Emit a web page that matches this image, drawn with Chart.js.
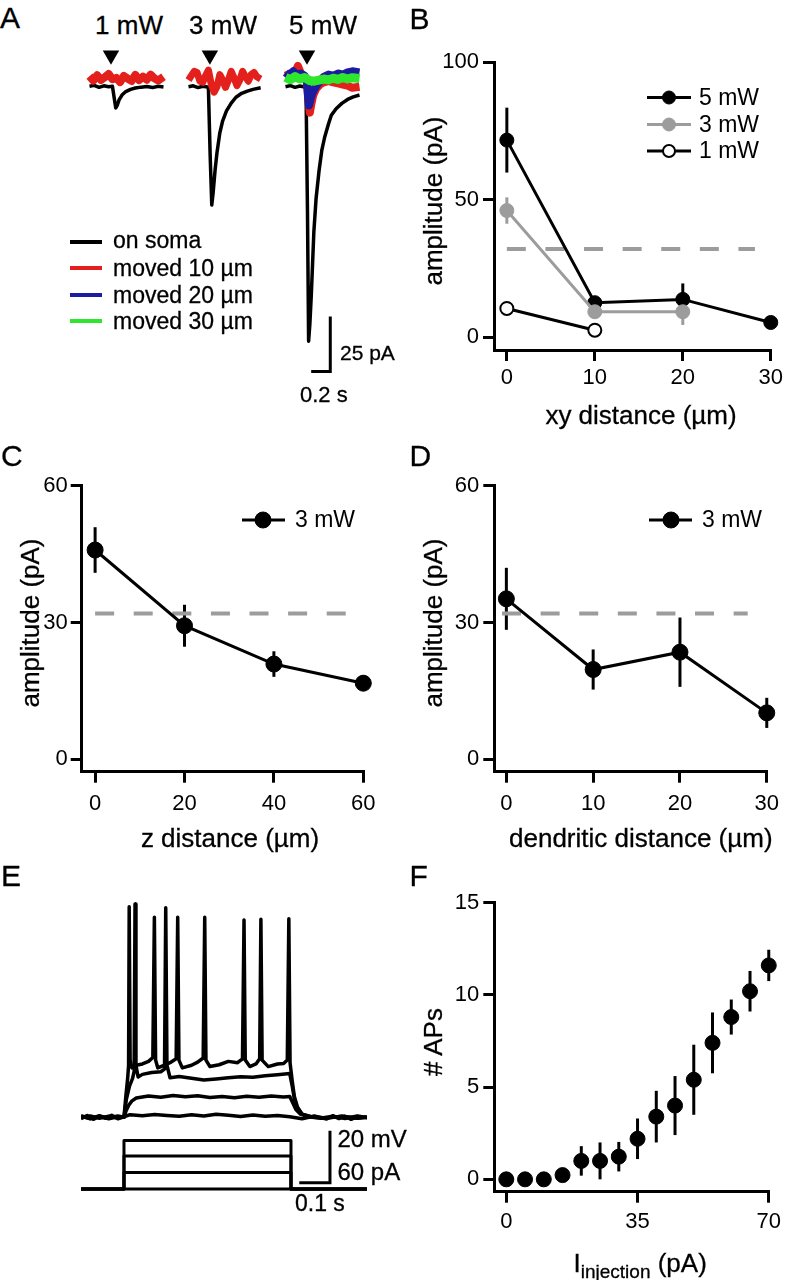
<!DOCTYPE html>
<html>
<head>
<meta charset="utf-8">
<title>Figure</title>
<script src="https://cdn.jsdelivr.net/npm/chart.js@4.4.1/dist/chart.umd.min.js"></script>
<style>
  html, body { margin:0; padding:0; background:#fff; }
  body { width:787px; height:1280px; position:relative; overflow:hidden; }
  canvas { position:absolute; display:block; }
  .t { position:absolute; white-space:nowrap; color:#000; font-family:'Liberation Sans', Arial, Helvetica, sans-serif; -webkit-text-stroke:0.3px #000; }
  .leg { position:absolute; height:4px; width:32px; }
</style>
</head>
<body>
<canvas id="sw1"></canvas>
<canvas id="sw2"></canvas>
<canvas id="sw3"></canvas>
<canvas id="pb"></canvas>
<canvas id="pc"></canvas>
<canvas id="pd"></canvas>
<canvas id="pe"></canvas>
<canvas id="pf"></canvas>
<script>
// ================= DATA =================
// Panel A: example sweeps (time in s, current in pA)
const stimTime = 0.225;
const sweep1RedT   = [0,0.04,0.08,0.12,0.16,0.20,0.24,0.28,0.32,0.36,0.40,0.44,0.48,0.52,0.56,0.60,0.64,0.68,0.72,0.775];
const sweep1Red    = [0.8,-1.2,1.2,-0.9,0.3,1.8,-0.6,0,-1.9,0.9,-0.3,-1.4,1.4,-1.0,0.6,-0.8,1.5,-0.2,-1.2,0.5];
const sweep1BlackT = [0,0.05,0.10,0.15,0.20,0.24,0.26,0.275,0.29,0.31,0.34,0.38,0.43,0.48,0.54,0.60,0.66,0.72,0.775];
const sweep1Black  = [-3.8,-3.4,-4.3,-3.6,-4.0,-3.8,-9.5,-13.7,-12.5,-10,-7.8,-6.2,-5.2,-4.6,-4.2,-3.9,-4.4,-3.8,-4.1];
const sweep2BlackT = [0,0.05,0.10,0.15,0.20,0.21,0.228,0.245,0.26,0.28,0.30,0.33,0.36,0.40,0.45,0.50,0.56,0.62,0.68,0.76];
const sweep2Black  = [-4,-3.6,-4.4,-3.8,-4.1,-5,-35,-57.8,-52,-42,-34,-25,-19.5,-15,-11.5,-8.8,-7,-6,-5.2,-4.5];
const sweep2RedT   = [0,0.03,0.06,0.09,0.12,0.15,0.18,0.21,0.24,0.27,0.30,0.33,0.36,0.39,0.42,0.45,0.48,0.51,0.54,0.57,0.60,0.63,0.66,0.69,0.72,0.76];
const sweep2Red    = [-1,1,3,2.5,-1.5,-2,1,3.5,-3,-6.5,-4,1.5,-1,-4.3,-1,3,0,-3.5,-1,3,0.5,-1.5,1.5,2.5,0.5,-0.5];
const sweep3BlackT = [0,0.05,0.10,0.15,0.20,0.215,0.23,0.242,0.255,0.27,0.297,0.32,0.352,0.38,0.41,0.45,0.48,0.53,0.59,0.65,0.71,0.775];
const sweep3Black  = [-4,-3.5,-4.3,-3.7,-4.1,-5,-60,-119.8,-112,-99,-70,-55,-42,-33,-27,-21,-17,-14,-11.6,-9.8,-8.6,-7.8];
const sweep3RedT   = [0,0.05,0.10,0.13,0.17,0.20,0.225,0.24,0.255,0.27,0.29,0.32,0.36,0.40,0.45,0.50,0.55,0.60,0.65,0.70,0.775];
const sweep3Red    = [1,2,2.5,5.5,1,0.5,-2,-10,-15.8,-12,-8,-5,-3,-2,-1.5,-2,-2.5,-3,-3.5,-4.5,-4];
const sweep3BlueT  = [0,0.04,0.08,0.12,0.16,0.20,0.225,0.235,0.245,0.26,0.28,0.31,0.35,0.40,0.45,0.50,0.55,0.60,0.65,0.70,0.775];
const sweep3Blue   = [2.5,1,3,1.5,2,1,-2,-8,-12.5,-10,-7,-4.5,-2,0.5,1.5,1,2,1.5,2.5,3,2.5];
const sweep3GreenT = [0,0.05,0.10,0.15,0.20,0.25,0.30,0.35,0.40,0.45,0.50,0.55,0.60,0.65,0.70,0.775];
const sweep3Green  = [0.3,-0.8,0.6,-0.5,0.2,-1.2,-1.5,-1.0,-0.5,-0.9,-0.1,-0.7,0.2,-0.5,0.1,-0.3];
const powerLabels  = ['1 mW', '3 mW', '5 mW'];
const traceLegend  = ['on soma', 'moved 10 \u00b5m', 'moved 20 \u00b5m', 'moved 30 \u00b5m'];

// Panel B: amplitude vs xy distance
const xyDistance = [0, 10, 20, 30];
const xyAmp5mW = [71.6, 12.5, 13.7, 5.3];
const xyErr5mW = [11.8, 1.5, 5.8, 1.0];
const xyAmp3mW = [46.0, 9.2, 9.2];
const xyErr3mW = [4.8, 1.5, 4.8];
const xyAmp1mW = [10.4, 2.5];
const bXTicks = [0, 10, 20, 30];
const bYTicks = [0, 50, 100];

// threshold (dashed)
const thresholdAmp = 32;
const bThreshX = [0, 28.2];
const cThreshX = [0, 56.3];
const dThreshX = [-0.5, 27.8];

// Panel C: amplitude vs z distance (3 mW)
const zDistance = [0, 20, 40, 60];
const zAmp = [45.9, 29.3, 20.9, 16.7];
const zErr = [5.0, 4.6, 2.8, 1.7];
const cXTicks = [0, 20, 40, 60];
const cYTicks = [0, 30, 60];

// Panel D: amplitude vs dendritic distance (3 mW)
const dendDistance = [0, 10, 20, 30];
const dendAmp = [35.2, 19.7, 23.5, 10.2];
const dendErr = [6.8, 4.4, 7.6, 3.3];
const dXTicks = [0, 10, 20, 30];
const dYTicks = [0, 30, 60];

// Panel E: voltage traces (mV) and current steps (pA), time in s
const eT0 = [0,0.02,0.04,0.06,0.08,0.10,0.12,0.14,0.16,0.20,0.24,0.28,0.32,0.36,0.40,0.44,0.48,0.52,0.56,0.60,0.64,0.68,0.72,0.76,0.80,0.82,0.84,0.86,0.88,0.90,0.932];
const eV0 = [-70.5,-69.3,-70.8,-69.6,-70.4,-69.2,-70.6,-69.8,-69.0,-69.4,-68.9,-69.3,-69.6,-69.0,-69.5,-68.8,-69.2,-69.7,-69.1,-69.6,-69.3,-69.8,-70.6,-69.5,-70.7,-69.4,-70.5,-69.6,-70.8,-69.7,-70.2];
const eT1 = [0,0.03,0.06,0.09,0.12,0.14,0.147,0.155,0.165,0.18,0.22,0.26,0.30,0.34,0.38,0.42,0.46,0.50,0.54,0.58,0.62,0.66,0.68,0.69,0.70,0.715,0.74,0.78,0.82,0.86,0.90,0.932];
const eV1 = [-69.4,-70.6,-69.7,-70.3,-69.5,-70.0,-67.5,-65.5,-63.8,-62.6,-61.8,-62.3,-61.6,-62.1,-61.7,-62.4,-62.0,-62.5,-61.9,-62.3,-61.8,-62.2,-62.0,-64.5,-67.0,-68.8,-69.8,-70.4,-69.6,-70.5,-69.5,-70.1];
const eT2 = [0,0.03,0.06,0.09,0.12,0.14,0.148,0.158,0.168,0.173,0.176,0.179,0.186,0.20,0.23,0.26,0.272,0.276,0.280,0.29,0.32,0.36,0.40,0.44,0.48,0.52,0.56,0.60,0.64,0.68,0.688,0.695,0.705,0.72,0.75,0.80,0.85,0.90,0.932];
const eV2 = [-70.2,-69.5,-70.4,-69.6,-70.3,-69.8,-63.0,-58.0,-55.0,-52.5,12.0,-50.0,-54.5,-53.5,-52.8,-52.5,-51.5,10.6,-50.0,-54.8,-54.3,-55.0,-55.7,-55.3,-54.8,-54.4,-54.6,-54.0,-53.6,-53.2,-58.0,-63.0,-66.5,-68.8,-69.8,-70.3,-69.6,-70.4,-69.9];
const eT3 = [0,0.03,0.06,0.09,0.12,0.14,0.146,0.152,0.155,0.157,0.160,0.166,0.18,0.20,0.22,0.234,0.239,0.243,0.25,0.27,0.29,0.31,0.315,0.319,0.33,0.36,0.38,0.398,0.403,0.407,0.42,0.45,0.48,0.51,0.526,0.531,0.535,0.55,0.57,0.582,0.586,0.590,0.61,0.64,0.66,0.672,0.677,0.681,0.688,0.695,0.705,0.72,0.75,0.80,0.85,0.90,0.932];
const eV3 = [-69.7,-70.5,-69.4,-70.6,-69.8,-70.0,-62.0,-55.0,-50.0,11.0,-48.0,-51.0,-50.0,-49.5,-48.5,-47.0,6.9,-48.0,-51.0,-50.0,-49.0,-47.5,6.9,-48.0,-51.0,-50.0,-48.8,-47.2,6.9,-48.0,-50.5,-49.8,-48.5,-49.0,-47.5,5.9,-48.0,-50.5,-49.5,-47.5,6.2,-48.0,-50.5,-49.5,-49.3,-48.0,6.4,-49.0,-56.0,-62.0,-66.0,-68.8,-69.9,-70.3,-69.6,-70.4,-70.0];
const stepT = [0, 0.14, 0.14, 0.684, 0.684, 0.932];
const eI0 = [0, 0, 0, 0, 0, 0];
const eI1 = [0, 0, 19, 19, 0, 0];
const eI2 = [0, 0, 38, 38, 0, 0];
const eI3 = [0, 0, 56, 56, 0, 0];

// Panel F: number of APs vs injected current
const injCurrent = [0,5,10,15,20,25,30,35,40,45,50,55,60,65,70];
const apCount = [0,0,0,0.23,1.0,1.0,1.23,2.2,3.4,4.0,5.4,7.4,8.8,10.2,11.6];
const apErr   = [0,0,0,0,0.8,1.0,0.8,1.1,1.4,1.6,1.9,1.65,0.95,1.1,0.85];
const fXTicks = [0, 35, 70];
const fYTicks = [0, 5, 10, 15];

// ================= STYLE / HELPERS =================
const FONT = "'Liberation Sans', Arial, Helvetica, sans-serif";
const GREY = '#9c9c9c';
const RED = '#e3201c', BLUE = '#1c1ca0', GREEN = '#2ee62e';
Chart.defaults.font.family = FONT;

const zip = (xs, ys) => ys.map((y, i) => ({ x: xs[i], y: y }));

const errorBarPlugin = {
  id: 'errorBars',
  beforeDatasetsDraw(chart) {
    const ctx = chart.ctx;
    chart.data.datasets.forEach((ds, i) => {
      if (!ds.errors) return;
      const xs = chart.scales.x, ys = chart.scales.y;
      ctx.save();
      ctx.strokeStyle = ds.borderColor;
      ctx.lineWidth = ds.errorWidth || 3;
      ds.data.forEach((p, j) => {
        const e = ds.errors[j];
        if (!e) return;
        const px = xs.getPixelForValue(p.x);
        ctx.beginPath();
        ctx.moveTo(px, ys.getPixelForValue(p.y - e));
        ctx.lineTo(px, ys.getPixelForValue(p.y + e));
        ctx.stroke();
      });
      ctx.restore();
    });
  }
};

function legendPlugin(items, ox, oy) {
  return {
    id: 'lineLegend',
    afterDatasetsDraw(chart) {
      const ctx = chart.ctx;
      items.forEach(it => {
        const y = it.y - oy;
        ctx.save();
        ctx.strokeStyle = it.color; ctx.lineWidth = 3;
        ctx.beginPath(); ctx.moveTo(it.x0 - ox, y); ctx.lineTo(it.x1 - ox, y); ctx.stroke();
        ctx.beginPath(); ctx.arc(it.mx - ox, y, it.r, 0, 2 * Math.PI);
        ctx.fillStyle = it.fill; ctx.fill();
        ctx.lineWidth = it.bw; ctx.strokeStyle = it.color; ctx.stroke();
        ctx.fillStyle = '#000'; ctx.font = '23px ' + FONT;
        ctx.textBaseline = 'middle'; ctx.textAlign = 'left';
        ctx.fillText(it.label, it.tx - ox, y + 1);
        ctx.restore();
      });
    }
  };
}

function scaleBarPlugin(o) {
  return {
    id: 'scaleBar',
    afterDatasetsDraw(chart) {
      const ctx = chart.ctx, xs = chart.scales.x, ys = chart.scales[o.yAxis || 'y'];
      const cx = xs.getPixelForValue(o.x), cy = ys.getPixelForValue(o.y);
      const lx = xs.getPixelForValue(o.x - o.dx), ty = ys.getPixelForValue(o.y + o.dy);
      ctx.save();
      ctx.strokeStyle = '#000'; ctx.lineWidth = 3; ctx.lineCap = 'butt'; ctx.lineJoin = 'miter';
      ctx.beginPath(); ctx.moveTo(lx, cy); ctx.lineTo(cx, cy); ctx.lineTo(cx, ty); ctx.stroke();
      ctx.restore();
    }
  };
}

function axis(kind, range, ticks, pad, size) {
  return {
    type: 'linear', position: kind === 'x' ? 'bottom' : 'left',
    min: range[0], max: range[1],
    afterBuildTicks: s => { s.ticks = ticks.map(v => ({ value: v })); },
    afterFit: s => { if (kind === 'x') s.height = size; else s.width = size; },
    border: { display: true, color: '#000', width: 3 },
    grid: { display: true, drawOnChartArea: false, drawTicks: true, tickLength: 11, tickWidth: 3, tickColor: '#000', color: '#000', lineWidth: 3 },
    ticks: { color: '#000', font: { family: FONT, size: 22 }, padding: pad, maxRotation: 0, minRotation: 0, autoSkip: false },
    title: { display: false }
  };
}

function place(canvasId, box) {
  const cv = document.getElementById(canvasId);
  cv.width = box.w; cv.height = box.h;
  cv.style.left = box.x + 'px'; cv.style.top = box.y + 'px';
  return cv;
}

function buildPlot(id, P) {
  const cv = place(id, P.box);
  const plugins = [errorBarPlugin];
  if (P.legend) plugins.push(legendPlugin(P.legend, P.box.x, P.box.y));
  return new Chart(cv, {
    type: 'scatter',
    data: { datasets: P.datasets },
    plugins: plugins,
    options: {
      responsive: false, animation: false, devicePixelRatio: 1, events: [],
      layout: { padding: { left: 0, bottom: 0, top: P.area.t - P.box.y, right: P.box.x + P.box.w - P.area.r } },
      plugins: { legend: { display: false }, tooltip: { enabled: false } },
      scales: {
        x: axis('x', P.xRange, P.xTicks, P.xPad, P.box.y + P.box.h - P.area.b),
        y: axis('y', P.yRange, P.yTicks, P.yPad, P.area.l - P.box.x)
      }
    }
  });
}

function buildTrace(id, box, xr, yScales, datasets, bar) {
  const cv = place(id, box);
  const scales = { x: { type: 'linear', display: false, min: xr[0], max: xr[1] } };
  for (const k in yScales) scales[k] = { type: 'linear', display: false, min: yScales[k][0], max: yScales[k][1] };
  return new Chart(cv, {
    type: 'scatter',
    data: { datasets },
    plugins: bar ? [scaleBarPlugin(bar)] : [],
    options: {
      responsive: false, animation: false, devicePixelRatio: 1, events: [],
      layout: { padding: 0 },
      plugins: { legend: { display: false }, tooltip: { enabled: false } },
      scales
    }
  });
}

function series(xs, ys, errs, style) {
  return Object.assign({
    data: zip(xs, ys), errors: errs, showLine: true, clip: false,
    borderWidth: 3, tension: 0, pointRadius: 7, pointBorderWidth: 1
  }, style);
}
function thresholdLine(xr) {
  return { data: [{ x: xr[0], y: thresholdAmp }, { x: xr[1], y: thresholdAmp }], showLine: true, clip: false,
    borderColor: GREY, borderWidth: 4, borderDash: [19, 19.6], pointRadius: 0, order: 20 };
}
function trace(ts, vs, color, width, order, yAxisID) {
  return { data: zip(ts, vs), showLine: true, clip: false, borderColor: color, borderWidth: width,
    pointRadius: 0, tension: 0, order: order, yAxisID: yAxisID || 'y', borderJoinStyle: 'round' };
}
function stimMarker() {
  return { data: [{ x: stimTime, y: 10.3 }], showLine: false, clip: false, pointStyle: 'triangle', rotation: 180,
    pointRadius: 9.5, pointBackgroundColor: '#000', pointBorderColor: '#000', pointBorderWidth: 0, order: 0 };
}

// ================= PANEL A =================
const aY = { y: [-142.24, 12.93] };
buildTrace('sw1', { x: 80, y: 40, w: 93, h: 360 }, [0, 0.775], aY, [
  trace(sweep1BlackT, sweep1Black, '#000', 3.5, 4),
  trace(sweep1RedT, sweep1Red, RED, 8, 3),
  stimMarker()
]);
buildTrace('sw2', { x: 179, y: 40, w: 91, h: 360 }, [0, 0.7583], aY, [
  trace(sweep2BlackT, sweep2Black, '#000', 3.5, 4),
  trace(sweep2RedT, sweep2Red, RED, 7, 3),
  stimMarker()
]);
buildTrace('sw3', { x: 276, y: 40, w: 93, h: 360 }, [0, 0.775], aY, [
  trace(sweep3BlackT, sweep3Black, '#000', 3.5, 4),
  trace(sweep3RedT, sweep3Red, RED, 8, 3),
  trace(sweep3BlueT, sweep3Blue, BLUE, 8, 2),
  trace(sweep3GreenT, sweep3Green, GREEN, 9, 1),
  stimMarker()
], { x: 0.469, y: -133.6, dx: 0.2, dy: 25 });

// ================= PANEL B =================
buildPlot('pb', {
  box: { x: 390, y: 30, w: 397, h: 410 },
  area: { l: 494, t: 62, r: 775, b: 350 },
  xRange: [-1.46, 30], yRange: [-4.7, 100], xTicks: bXTicks, yTicks: bYTicks, xPad: 4, yPad: 4,
  datasets: [
    thresholdLine(bThreshX),
    series(xyDistance, xyAmp5mW, xyErr5mW, { borderColor: '#000', pointBackgroundColor: '#000', pointBorderColor: '#000', order: 3 }),
    series(xyDistance, xyAmp3mW, xyErr3mW, { borderColor: GREY, pointBackgroundColor: GREY, pointBorderColor: GREY, order: 2 }),
    series(xyDistance, xyAmp1mW, null, { borderColor: '#000', pointBackgroundColor: '#fff', pointBorderColor: '#000', pointBorderWidth: 2, pointRadius: 6.5, order: 1 })
  ],
  legend: [
    { label: '5 mW', y: 97.5, x0: 647, x1: 691, mx: 669, r: 6.5, fill: '#000', color: '#000', bw: 1, tx: 699 },
    { label: '3 mW', y: 124.5, x0: 647, x1: 691, mx: 669, r: 6.5, fill: GREY, color: GREY, bw: 1, tx: 699 },
    { label: '1 mW', y: 151, x0: 647, x1: 691, mx: 669, r: 6, fill: '#fff', color: '#000', bw: 2, tx: 699 }
  ]
});

// ================= PANEL C =================
buildPlot('pc', {
  box: { x: 0, y: 440, w: 390, h: 420 },
  area: { l: 81.7, t: 485.7, r: 363.3, b: 771.7 },
  xRange: [-3, 60], yRange: [-2.7, 60], xTicks: cXTicks, yTicks: cYTicks, xPad: 8, yPad: 3,
  datasets: [
    thresholdLine(cThreshX),
    series(zDistance, zAmp, zErr, { borderColor: '#000', pointBackgroundColor: '#000', pointBorderColor: '#000', pointRadius: 8, order: 1 })
  ],
  legend: [
    { label: '3 mW', y: 520, x0: 242, x1: 285, mx: 263, r: 8, fill: '#000', color: '#000', bw: 1, tx: 295 }
  ]
});

// ================= PANEL D =================
buildPlot('pd', {
  box: { x: 390, y: 440, w: 397, h: 420 },
  area: { l: 494.3, t: 485.7, r: 775, b: 771.7 },
  xRange: [-1.39, 30], yRange: [-2.7, 60], xTicks: dXTicks, yTicks: dYTicks, xPad: 8, yPad: 4,
  datasets: [
    thresholdLine(dThreshX),
    series(dendDistance, dendAmp, dendErr, { borderColor: '#000', pointBackgroundColor: '#000', pointBorderColor: '#000', pointRadius: 8, order: 1 })
  ],
  legend: [
    { label: '3 mW', y: 520, x0: 649, x1: 692, mx: 671, r: 8, fill: '#000', color: '#000', bw: 1, tx: 702 }
  ]
});

// ================= PANEL E =================
buildTrace('pe', { x: 81, y: 895, w: 286, h: 300 }, [0, 0.9316], { y: [-99.9, 15.5], y2: [-6.9, 339.1] }, [
  trace(eT0, eV0, '#000', 3.5, 1),
  trace(eT1, eV1, '#000', 3.5, 1),
  trace(eT2, eV2, '#000', 3.5, 1),
  trace(eT3, eV3, '#000', 3.5, 1),
  trace(stepT, eI0, '#000', 3, 1, 'y2'),
  trace(stepT, eI1, '#000', 3, 1, 'y2'),
  trace(stepT, eI2, '#000', 3, 1, 'y2'),
  trace(stepT, eI3, '#000', 3, 1, 'y2')
], { x: 0.811, y: -95.2, dx: 0.1, dy: 20, yAxis: 'y' });

// ================= PANEL F =================
buildPlot('pf', {
  box: { x: 390, y: 860, w: 397, h: 420 },
  area: { l: 494.3, t: 902.7, r: 775, b: 1191.7 },
  xRange: [-3.2, 70], yRange: [-0.67, 15], xTicks: fXTicks, yTicks: fYTicks, xPad: 6, yPad: 4,
  datasets: [
    series(injCurrent, apCount, apErr, { showLine: false, borderColor: '#000', pointBackgroundColor: '#000', pointBorderColor: '#000', pointRadius: 7.5, order: 1 })
  ]
});

// ================= TEXT =================
function label(html, x, capTop, size, align) {
  const d = document.createElement('div');
  d.className = 't';
  d.innerHTML = html;
  d.style.fontSize = size + 'px';
  d.style.lineHeight = size + 'px';
  d.style.top = (capTop - 0.1305 * size) + 'px';
  if (align === 'center') { d.style.left = (x - 150) + 'px'; d.style.width = '300px'; d.style.textAlign = 'center'; }
  else d.style.left = x + 'px';
  document.body.appendChild(d);
}
function vlabel(html, cx, cy, size) {
  const d = document.createElement('div');
  d.className = 't';
  d.innerHTML = html;
  const W = 300;
  d.style.fontSize = size + 'px'; d.style.lineHeight = size + 'px';
  d.style.width = W + 'px'; d.style.textAlign = 'center';
  d.style.left = (cx - W / 2) + 'px'; d.style.top = (cy - size / 2) + 'px';
  d.style.transform = 'rotate(-90deg)'; d.style.transformOrigin = '50% 50%';
  document.body.appendChild(d);
}
function legLine(color, x, y) {
  const d = document.createElement('div');
  d.className = 'leg';
  d.style.background = color; d.style.left = x + 'px'; d.style.top = (y - 2) + 'px';
  document.body.appendChild(d);
}

// panel letters
label('A', 0, 7.3, 30);
label('B', 409.5, 8.3, 30);
label('C', 1, 445, 30);
label('D', 409.5, 445, 30);
label('E', 1, 865, 30);
label('F', 409.5, 865, 30);

// panel A
label(powerLabels[0], 129, 15, 26, 'center');
label(powerLabels[1], 223, 15, 26, 'center');
label(powerLabels[2], 323, 15, 26, 'center');
const legColors = ['#000', RED, BLUE, GREEN];
const legY = [241.7, 268.3, 295, 321];
traceLegend.forEach((s, i) => {
  legLine(legColors[i], 70, legY[i]);
  label(s, 113, legY[i] - (i === 0 ? 10 : 8.2), 23);
});
label('25 pA', 340, 345, 21);
label('0.2 s', 300, 386.7, 22);

// axis titles
label('xy distance (\u00b5m)', 641, 405, 26, 'center');
vlabel('amplitude (pA)', 432.8, 200.7, 26);
label('z distance (\u00b5m)', 230, 828.3, 26, 'center');
vlabel('amplitude (pA)', 29.5, 623.3, 26);
label('dendritic distance (\u00b5m)', 640.8, 828.3, 26, 'center');
vlabel('amplitude (pA)', 432.8, 623.3, 26);
vlabel('# APs', 433.3, 1041.7, 26);
label('I<span style="font-size:19px;position:relative;top:6.5px">injection</span> (pA)', 573.5, 1253.3, 26);

// panel E scale labels
label('20 mV', 337.5, 1130, 24);
label('60 pA', 337.5, 1163, 24);
label('0.1 s', 295, 1195, 23);
</script>
</body>
</html>
